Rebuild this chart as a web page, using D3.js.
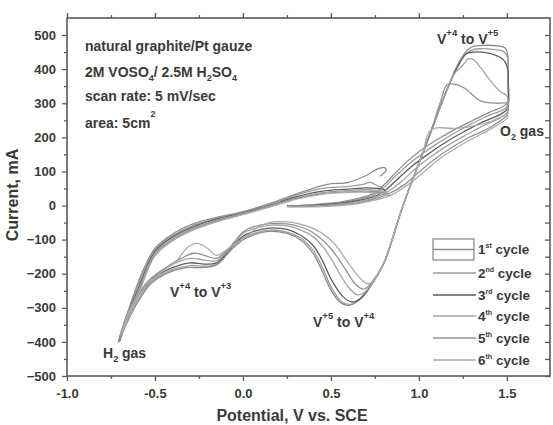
<!DOCTYPE html>
<html><head><meta charset="utf-8">
<script src="https://cdn.jsdelivr.net/npm/d3@7"></script>
<style>
body{margin:0;background:#fff}
svg{display:block}
text{font-family:"Liberation Sans",Arial,sans-serif;font-weight:bold;fill:#3a3a3a}
</style>
</head><body>
<svg id="chart" width="553" height="425"></svg>
<script>
// ---------------- data ----------------
const xTickValues = [-1.0, -0.5, 0.0, 0.5, 1.0, 1.5];
const xTickLabels = ["-1.0", "-0.5", "0.0", "0.5", "1.0", "1.5"];
const xMinorTicks = [-0.75, -0.25, 0.25, 0.75, 1.25];
const yTickValues = [-500, -400, -300, -200, -100, 0, 100, 200, 300, 400, 500];
const yMinorTicks = [-450, -350, -250, -150, -50, 50, 150, 250, 350, 450];
const cycleNums = ["1", "2", "3", "4", "5", "6"];
const cycleSup = ["st", "nd", "rd", "th", "th", "th"];

// each cycle: [potential V vs SCE, current mA] in scan order
const cycle1 = [[0.25,-2],[0.35,1],[0.45,5],[0.55,10],[0.65,20],
 [0.74,35],[0.80,60],[0.86,92],[0.93,128],[1.0,158],[1.1,192],[1.2,222],[1.3,248],[1.4,273],[1.5,300],
 [1.507,370],[1.505,440],[1.49,462],[1.45,468],[1.38,470],[1.32,468],[1.28,458],
 [1.24,430],[1.16,340],[1.06,205],[0.91,0],[0.80,-170],
 [0.72,-240],[0.66,-278],[0.6,-293],[0.55,-283],[0.5,-248],[0.45,-192],[0.4,-142],[0.33,-102],[0.25,-82],[0.15,-76],[0.05,-88],[0.0,-100],
 [-0.07,-132],[-0.15,-174],[-0.24,-182],[-0.32,-182],[-0.42,-196],[-0.52,-228],[-0.6,-285],[-0.66,-345],[-0.71,-402],
 [-0.68,-350],[-0.64,-290],[-0.58,-205],[-0.5,-125],[-0.43,-94],[-0.34,-66],[-0.25,-48],[-0.15,-35],[0.0,-18],[0.14,4],[0.25,24],[0.36,44],[0.48,62],[0.6,68],[0.7,88],[0.76,106],[0.8,112],[0.815,104],[0.8,95],[0.78,86]];

const cycle2 = [[0.25,-2],[0.35,0],[0.45,3],[0.55,8],[0.65,17],
 [0.74,30],[0.80,52],[0.87,88],[0.95,125],[1.02,152],[1.1,180],[1.2,212],[1.3,240],[1.4,265],[1.5,290],
 [1.507,370],[1.503,435],[1.48,452],[1.42,458],[1.35,460],[1.3,456],
 [1.24,430],[1.16,340],[1.06,205],[0.91,0],[0.80,-170],
 [0.72,-240],[0.66,-275],[0.61,-290],[0.56,-282],[0.5,-238],[0.45,-180],[0.4,-132],[0.33,-96],[0.25,-78],[0.15,-72],[0.05,-84],[0.0,-96],
 [-0.07,-130],[-0.15,-172],[-0.22,-178],[-0.3,-176],[-0.4,-188],[-0.5,-216],[-0.6,-280],[-0.66,-338],[-0.7,-398],
 [-0.66,-335],[-0.6,-240],[-0.5,-130],[-0.4,-88],[-0.3,-62],[-0.15,-38],[0.0,-20],[0.14,2],[0.3,30],[0.45,50],[0.6,56],[0.68,62],[0.72,68],[0.75,62],[0.78,55],[0.80,52]];

const cycle3 = [[0.25,-2],[0.35,-1],[0.45,2],[0.55,6],[0.65,14],
 [0.74,25],[0.81,45],[0.88,78],[0.96,115],[1.05,150],[1.15,185],[1.25,215],[1.35,242],[1.5,282],
 [1.507,340],[1.503,405],[1.48,428],[1.43,442],[1.36,450],[1.31,450],[1.27,445],
 [1.22,407],[1.16,340],[1.06,205],[0.91,0],[0.80,-170],
 [0.72,-240],[0.67,-272],[0.62,-283],[0.57,-268],[0.5,-215],[0.45,-160],[0.4,-118],[0.33,-88],[0.25,-70],[0.15,-66],[0.05,-78],[0.0,-90],
 [-0.07,-125],[-0.15,-168],[-0.22,-172],[-0.3,-168],[-0.4,-182],[-0.5,-210],[-0.6,-272],[-0.66,-330],[-0.7,-395],
 [-0.66,-325],[-0.6,-250],[-0.5,-135],[-0.4,-92],[-0.3,-66],[-0.15,-40],[0.0,-22],[0.15,0],[0.3,25],[0.45,42],[0.6,48],[0.7,52],[0.77,50],[0.81,45]];

const cycle4 = [[0.25,-3],[0.35,-2],[0.45,0],[0.55,4],[0.65,11],
 [0.74,22],[0.82,40],[0.9,70],[0.98,108],[1.06,140],[1.15,172],[1.25,202],[1.35,230],[1.5,272],
 [1.507,300],[1.5,322],[1.46,335],[1.4,370],[1.35,405],[1.31,428],[1.28,430],[1.25,412],
 [1.2,385],[1.16,340],[1.06,205],[0.91,0],[0.80,-170],
 [0.74,-225],[0.69,-255],[0.65,-262],[0.6,-240],[0.55,-200],[0.5,-155],[0.45,-118],[0.4,-92],[0.33,-72],[0.25,-60],[0.15,-58],[0.05,-70],[0.0,-82],
 [-0.07,-122],[-0.15,-162],[-0.22,-160],[-0.3,-155],[-0.38,-168],[-0.48,-198],[-0.58,-255],[-0.65,-320],[-0.7,-392],
 [-0.66,-322],[-0.6,-258],[-0.5,-140],[-0.4,-96],[-0.3,-70],[-0.15,-43],[0.0,-24],[0.15,-2],[0.3,22],[0.45,38],[0.6,44],[0.7,47],[0.77,44],[0.82,40]];

const cycle5 = [[0.25,-3],[0.35,-3],[0.45,-1],[0.55,2],[0.65,8],
 [0.74,18],[0.83,35],[0.92,62],[1.0,98],[1.08,132],[1.18,168],[1.28,198],[1.4,228],[1.5,265],
 [1.507,285],[1.5,300],[1.45,300],[1.35,307],[1.26,344],[1.2,356],[1.16,354],[1.12,300],
 [1.06,205],[0.91,0],[0.80,-170],
 [0.76,-205],[0.71,-238],[0.68,-245],[0.63,-225],[0.58,-185],[0.52,-140],[0.46,-105],[0.4,-80],[0.33,-63],[0.25,-54],[0.15,-53],[0.05,-64],[0.0,-78],
 [-0.07,-120],[-0.15,-155],[-0.22,-146],[-0.28,-140],[-0.35,-155],[-0.45,-186],[-0.55,-228],[-0.63,-300],[-0.7,-390],
 [-0.66,-328],[-0.6,-262],[-0.5,-144],[-0.4,-100],[-0.3,-73],[-0.15,-45],[0.0,-25],[0.15,-3],[0.3,20],[0.45,35],[0.6,40],[0.7,42],[0.77,39],[0.83,35]];

const cycle6 = [[0.25,-3],[0.35,-4],[0.45,-3],[0.55,0],[0.65,5],
 [0.74,15],[0.84,30],[0.93,58],[1.02,95],[1.1,130],[1.2,165],[1.3,195],[1.4,222],[1.5,255],
 [1.507,262],[1.5,266],[1.4,245],[1.3,232],[1.2,226],[1.1,228],[1.06,218],
 [1.02,151],[0.91,0],[0.80,-170],
 [0.78,-190],[0.74,-222],[0.71,-230],[0.66,-210],[0.6,-170],[0.55,-132],[0.5,-102],[0.42,-72],[0.33,-55],[0.25,-48],[0.15,-50],[0.08,-65],[0.04,-82],
 [-0.074,-123],[-0.15,-146],[-0.2,-126],[-0.26,-111],[-0.32,-125],[-0.375,-161],[-0.45,-190],[-0.55,-235],[-0.63,-305],[-0.69,-380],
 [-0.655,-322],[-0.6,-268],[-0.5,-148],[-0.4,-104],[-0.3,-76],[-0.15,-48],[0.0,-27],[0.15,-5],[0.3,18],[0.45,33],[0.6,38],[0.7,39],[0.77,35],[0.84,30]];

const cycles = [cycle1, cycle2, cycle3, cycle4, cycle5, cycle6];
const cycleColors = ["#8c8c8c", "#9c9c9c", "#5e5e5e", "#a4a4a4", "#939393", "#ababab"];

// ---------------- chart ----------------
const svg = d3.select("#chart");
const x = d3.scaleLinear().domain([-1.0, 1.745]).range([67, 550]);
const y = d3.scaleLinear().domain([-500, 550]).range([376, 18]);
const frameColor = "#5a5a5a";

const line = d3.line().x(d => x(d[0])).y(d => y(d[1])).curve(d3.curveCatmullRom.alpha(0.5));

const plot = svg.append("g");
cycles.forEach((c, i) => {
  plot.append("path").attr("d", line(c)).attr("fill", "none")
    .attr("stroke", cycleColors[i]).attr("stroke-width", 1.3).attr("stroke-linejoin", "round");
});

// frame
svg.append("rect").attr("x", x(-1.0)).attr("y", y(550)).attr("width", x(1.745) - x(-1.0)).attr("height", y(-500) - y(550))
  .attr("fill", "none").attr("stroke", frameColor).attr("stroke-width", 1.6);

function styleAxis(g) {
  g.select(".domain").remove();
  g.selectAll(".tick line").attr("stroke", frameColor).attr("stroke-width", 1.3);
  g.selectAll(".tick text").style("font-size", "13px").attr("fill", "#3a3a3a");
}
// bottom
svg.append("g").attr("transform", `translate(0,${y(-500)})`)
  .call(d3.axisBottom(x).tickValues(xTickValues).tickFormat((d, i) => xTickLabels[i]).tickSize(5).tickPadding(8))
  .call(styleAxis);
svg.append("g").attr("transform", `translate(0,${y(-500)})`)
  .call(d3.axisBottom(x).tickValues(xMinorTicks).tickFormat("").tickSize(3)).call(styleAxis);
// top
svg.append("g").attr("transform", `translate(0,${y(550)})`)
  .call(d3.axisTop(x).tickValues(xTickValues).tickFormat("").tickSize(5)).call(styleAxis);
svg.append("g").attr("transform", `translate(0,${y(550)})`)
  .call(d3.axisTop(x).tickValues(xMinorTicks).tickFormat("").tickSize(3)).call(styleAxis);
// left
svg.append("g").attr("transform", `translate(${x(-1.0)},0)`)
  .call(d3.axisLeft(y).tickValues(yTickValues).tickFormat(d3.format("d")).tickSize(5).tickPadding(6))
  .call(styleAxis);
svg.append("g").attr("transform", `translate(${x(-1.0)},0)`)
  .call(d3.axisLeft(y).tickValues(yMinorTicks).tickFormat("").tickSize(3)).call(styleAxis);
// right (inward)
svg.append("g").attr("transform", `translate(${x(1.745)},0)`)
  .call(d3.axisRight(y).tickValues(yTickValues.concat(yMinorTicks)).tickFormat("").tickSize(-5)).call(styleAxis);

// axis titles
svg.append("text").attr("x", 292).attr("y", 421).attr("text-anchor", "middle")
  .style("font-size", "16px").text("Potential, V vs. SCE");
svg.append("text").attr("transform", "translate(18,195) rotate(-90)").attr("text-anchor", "middle")
  .style("font-size", "16px").text("Current, mA");

// info text
const info = svg.append("g").style("font-size", "14px");
info.append("text").attr("x", 85).attr("y", 51).text("natural graphite/Pt gauze");
const t2 = info.append("text").attr("x", 85).attr("y", 77);
t2.append("tspan").text("2M VOSO");
t2.append("tspan").attr("dy", 4).style("font-size", "9px").text("4");
t2.append("tspan").attr("dy", -4).text("/ 2.5M H");
t2.append("tspan").attr("dy", 4).style("font-size", "9px").text("2");
t2.append("tspan").attr("dy", -4).text("SO");
t2.append("tspan").attr("dy", 4).style("font-size", "9px").text("4");
info.append("text").attr("x", 85).attr("y", 101).text("scan rate: 5 mV/sec");
const t4 = info.append("text").attr("x", 85).attr("y", 128);
t4.append("tspan").text("area: 5cm");
t4.append("tspan").attr("dy", -11).style("font-size", "9px").text("2");

// annotations
function vLabel(xp, yp, a, b) {
  const t = svg.append("text").attr("x", xp).attr("y", yp).style("font-size", "14px");
  t.append("tspan").text("V");
  t.append("tspan").attr("dy", -8).style("font-size", "9.5px").text(a);
  t.append("tspan").attr("dy", 8).text(" to V");
  t.append("tspan").attr("dy", -8).style("font-size", "9.5px").text(b);
}
vLabel(437, 44, "+4", "+5");
vLabel(170, 297, "+4", "+3");
vLabel(313, 327, "+5", "+4");
const o2 = svg.append("text").attr("x", 500).attr("y", 136).style("font-size", "14px");
o2.append("tspan").text("O");
o2.append("tspan").attr("dy", 4).style("font-size", "9px").text("2");
o2.append("tspan").attr("dy", -4).text(" gas");
const h2 = svg.append("text").attr("x", 103).attr("y", 358).style("font-size", "14px");
h2.append("tspan").text("H");
h2.append("tspan").attr("dy", 4).style("font-size", "9px").text("2");
h2.append("tspan").attr("dy", -4).text(" gas");

// legend
const legY = [249, 273, 295, 316, 338, 360];
const leg = svg.append("g");
cycleNums.forEach((n, i) => {
  if (i === 0) {
    leg.append("rect").attr("x", 433).attr("y", 239).attr("width", 41).attr("height", 21)
      .attr("fill", "none").attr("stroke", cycleColors[i]).attr("stroke-width", 1.3);
    leg.append("line").attr("x1", 433).attr("x2", 474).attr("y1", 249.5).attr("y2", 249.5)
      .attr("stroke", cycleColors[i]).attr("stroke-width", 1.3);
  } else {
    leg.append("line").attr("x1", 433).attr("x2", 476).attr("y1", legY[i]).attr("y2", legY[i])
      .attr("stroke", cycleColors[i]).attr("stroke-width", 1.3);
  }
  const t = leg.append("text").attr("x", 478).attr("y", legY[i] + 5).style("font-size", "13.5px");
  t.append("tspan").text(n);
  t.append("tspan").attr("dy", -6).style("font-size", "7px").text(cycleSup[i]);
  t.append("tspan").attr("dy", 6).text(" cycle");
});
</script>
</body></html>
